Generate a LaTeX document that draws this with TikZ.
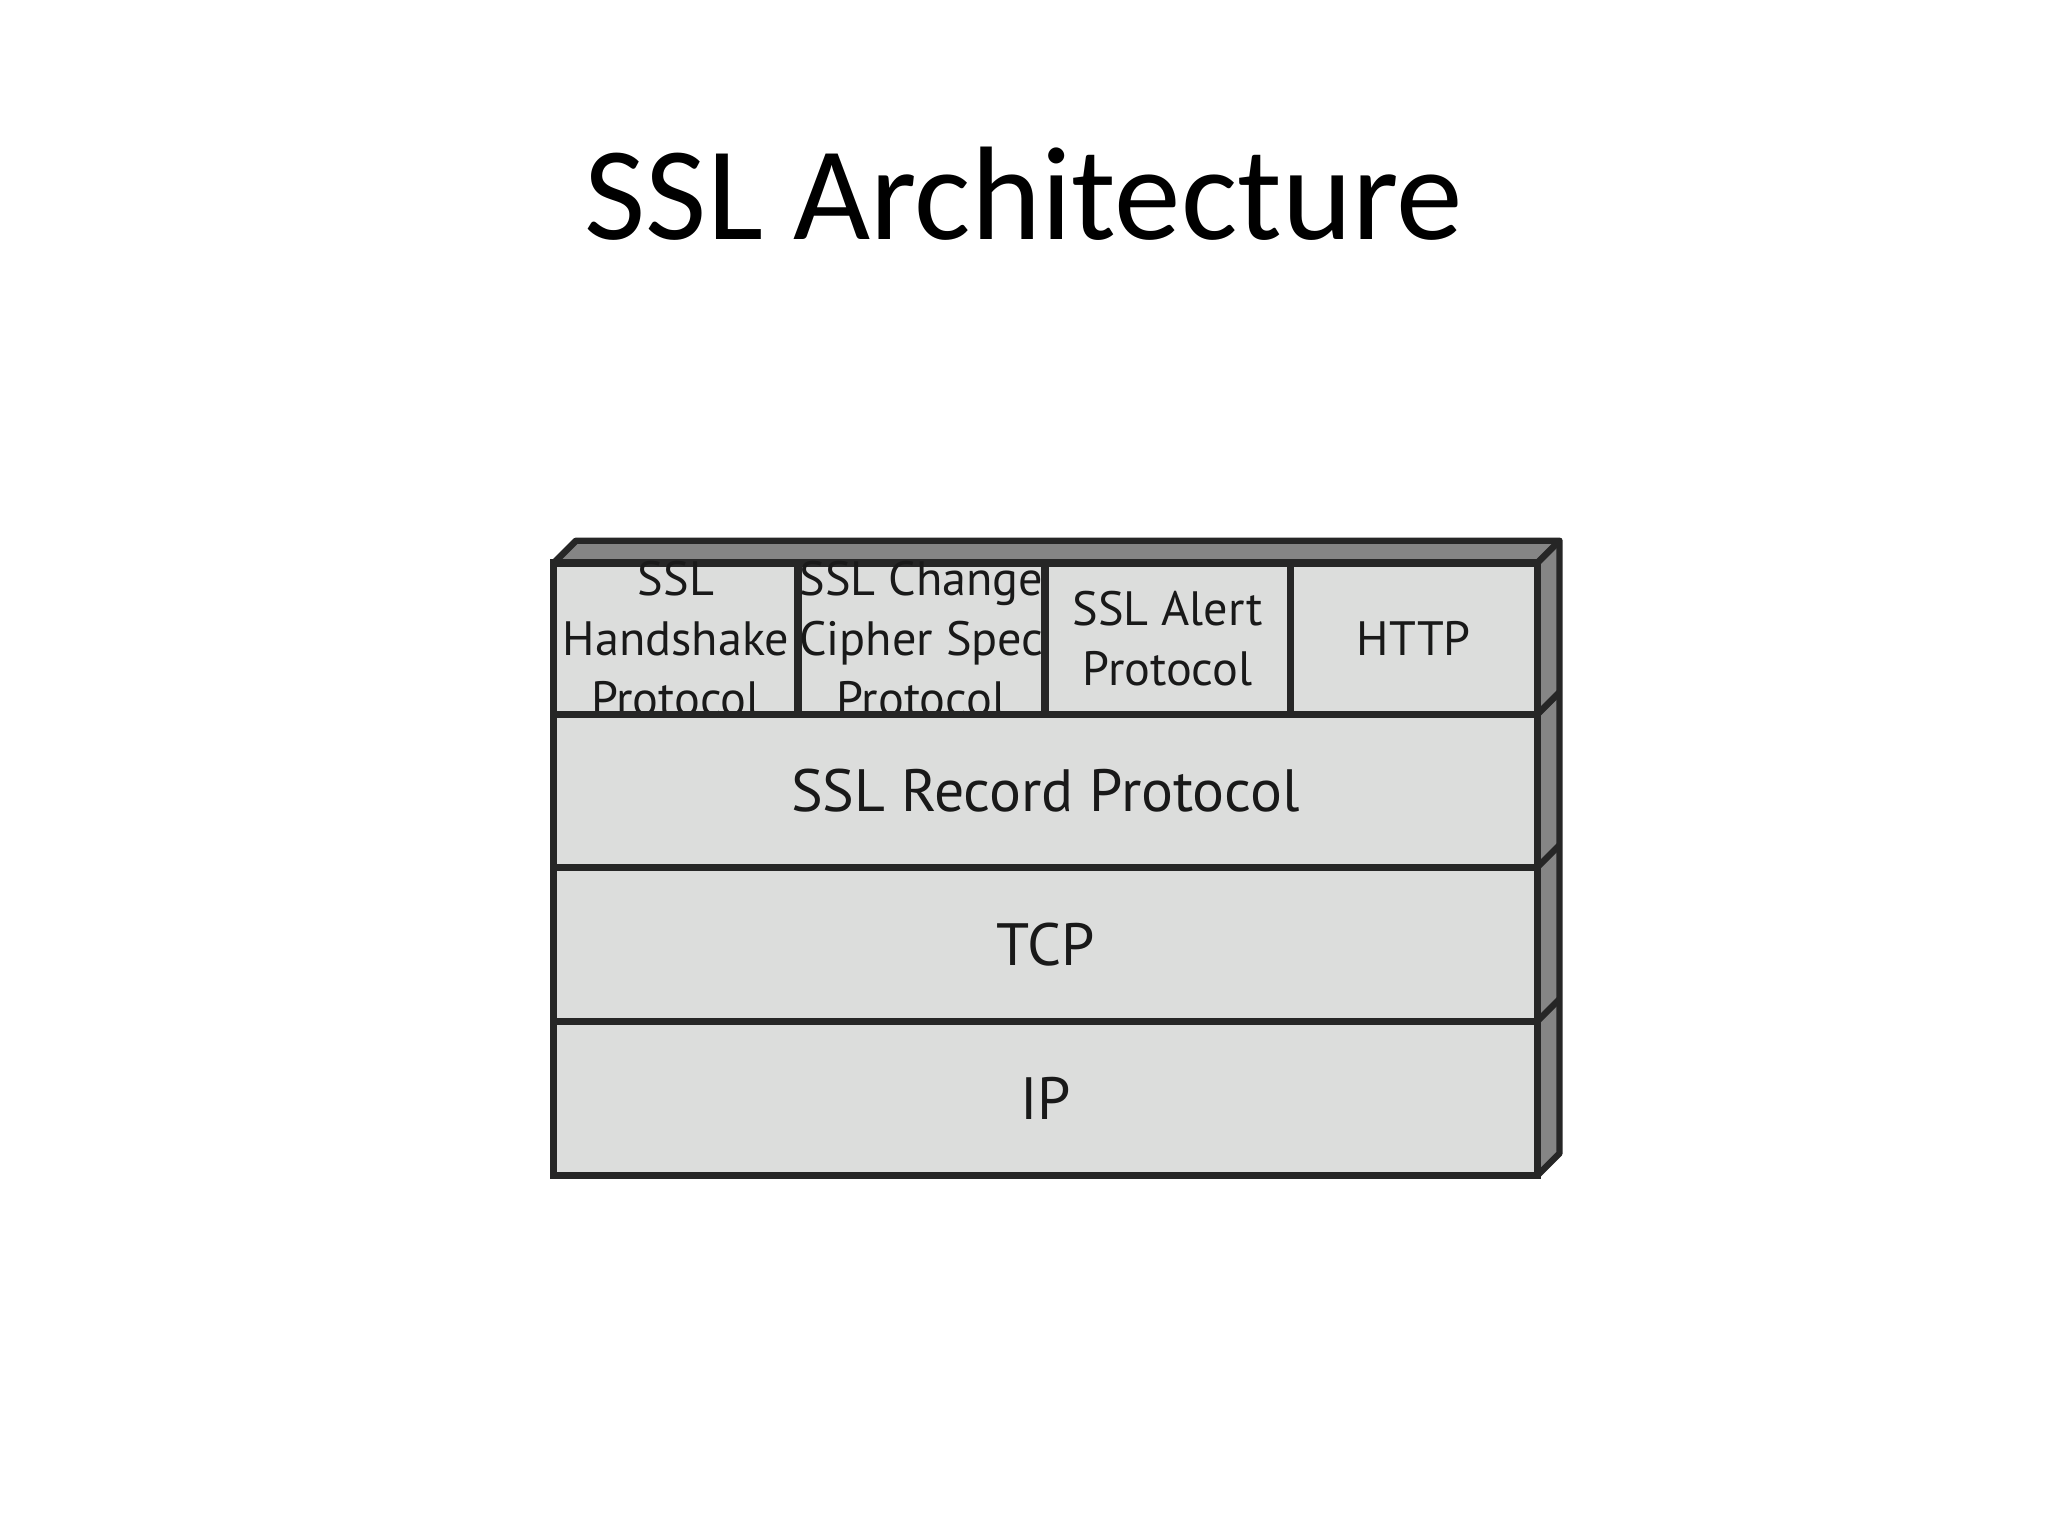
\documentclass[tikz,border=0pt]{standalone}
\usepackage{fontspec}
\setmainfont{Carlito}
\newfontfamily\boxfont{PT Sans}
\definecolor{facegray}{HTML}{DCDDDC}
\definecolor{sidegray}{HTML}{858585}
\begin{document}
\begin{tikzpicture}[x=0.01cm,y=-0.01cm,
  face/.style={draw=black!85,line width=1.6pt,fill=facegray},
  side/.style={draw=black!85,line width=1.4pt,fill=sidegray,line join=round},
  lbl/.style={font=\boxfont\fontsize{10.5}{13}\selectfont,align=center,text=black!90},
  biglbl/.style={font=\boxfont\fontsize{13}{15}\selectfont,text=black!90}]
\useasboundingbox (0,0) rectangle (1568,1176);
\node[font=\fontsize{29}{34}\selectfont] (title) at (784,148) {SSL Architecture};
% 3D top and side
\fill[side] (424,431) -- (441,414) -- (1194,414) -- (1194,883) -- (1177,900) -- (1177,431) -- cycle;
\draw[draw=black!85,line width=1.4pt] (1177,431) -- (1194,414);
\foreach \yy in {547,664,782} \draw[draw=black!85,line width=1.4pt] (1177,\yy) -- (1194,\yy-17);
% front faces
\draw[face] (424,431) rectangle (611,547) node[midway,lbl] (hs) {SSL\\Handshake\\Protocol};
\draw[face] (611,431) rectangle (800,547) node[midway,lbl] (ccs) {SSL Change\\Cipher Spec\\Protocol};
\draw[face] (800,431) rectangle (988,547) node[midway,lbl] (al) {SSL Alert\\Protocol};
\draw[face] (988,431) rectangle (1177,547) node[midway,lbl] (http) {HTTP};
\draw[face] (424,547) rectangle (1177,664) node[midway,biglbl] (rec) {SSL Record Protocol};
\draw[face] (424,664) rectangle (1177,782) node[midway,biglbl] (tcp) {TCP};
\draw[face] (424,782) rectangle (1177,900) node[midway,biglbl] (ip) {IP};
\end{tikzpicture}
\end{document}
